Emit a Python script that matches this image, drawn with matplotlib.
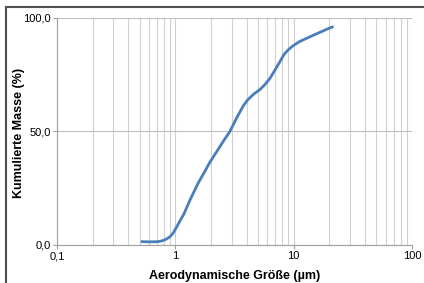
import matplotlib.pyplot as plt
from matplotlib.ticker import FixedLocator, FixedFormatter, NullFormatter
from matplotlib.patches import Rectangle

plt.rcParams['font.family'] = ['Liberation Sans', 'DejaVu Sans']

# Partikelgröße (µm) und kumulierte Masse (%)
size_um = [0.52, 0.58, 0.65, 0.72, 0.78, 0.84, 0.90, 0.96, 1.03, 1.10, 1.18, 1.33,
           1.55, 1.80, 1.96, 2.23, 2.55, 2.89, 3.3, 3.75, 4.1, 4.6, 5.19, 5.7,
           6.3, 6.9, 7.64, 8.3, 9.0, 9.9, 11.2, 12.8, 14.5, 16.5, 18.8, 21.3]
mass_pct = [1.5, 1.4, 1.4, 1.5, 1.9, 2.6, 3.6, 5.3, 8.1, 10.8, 13.6, 19.8,
            27.0, 33.0, 36.5, 41.0, 45.8, 50.0, 56.0, 61.3, 64.0, 66.5, 68.5, 70.6,
            73.4, 76.8, 80.7, 84.0, 86.0, 87.8, 89.6, 91.0, 92.3, 93.6, 94.9, 96.1]

x_ticks = [0.1, 1, 10, 100]
x_labels = ['0,1', '1', '10', '100']
y_ticks = [0, 50, 100]
y_labels = ['0,0', '50,0', '100,0']

fig = plt.figure(figsize=(4.24, 2.83), dpi=100)
ax = fig.add_axes([0.1344, 0.1343, 0.8373, 0.8021])

ax.plot(size_um, mass_pct, color='#4a7ebb', lw=2.0, solid_capstyle='round',
        solid_joinstyle='round', zorder=3)

ax.set_xscale('log')
ax.set_xlim(0.1, 100)
ax.set_ylim(0, 100)

minor = [m * d for d in (0.1, 1, 10) for m in range(2, 10)]
ax.xaxis.set_major_locator(FixedLocator(x_ticks))
ax.xaxis.set_major_formatter(FixedFormatter(x_labels))
ax.xaxis.set_minor_locator(FixedLocator(minor))
ax.xaxis.set_minor_formatter(NullFormatter())
ax.yaxis.set_major_locator(FixedLocator(y_ticks))
ax.yaxis.set_major_formatter(FixedFormatter(y_labels))

ax.grid(True, which='both', axis='x', color='#d0d0d0', lw=0.8)
ax.grid(True, which='major', axis='y', color='#c0c0c0', lw=0.8)
ax.set_axisbelow(True)

for side in ('top', 'right'):
    ax.spines[side].set_visible(False)
for side in ('left', 'bottom'):
    ax.spines[side].set_color('#a0a0a0')
    ax.spines[side].set_linewidth(0.8)

ax.tick_params(which='major', length=3, color='#a0a0a0', labelsize=8, pad=1.5)
ax.tick_params(which='minor', length=0)

ax.set_xlabel('Aerodynamische Größe (µm)', fontsize=9, fontweight='bold')
ax.set_ylabel('Kumulierte Masse (%)', fontsize=9, fontweight='bold')
ax.xaxis.set_label_coords(0.5, -0.11)
ax.yaxis.set_label_coords(-0.090, 0.495)

# Rahmen oben und links
fig.patches.append(Rectangle((6 / 424, -0.1), 1.2, 1.1 - 7 / 283,
                             transform=fig.transFigure, fill=False,
                             edgecolor='#505050', lw=1.5))

fig.savefig('out.png', dpi=100)
